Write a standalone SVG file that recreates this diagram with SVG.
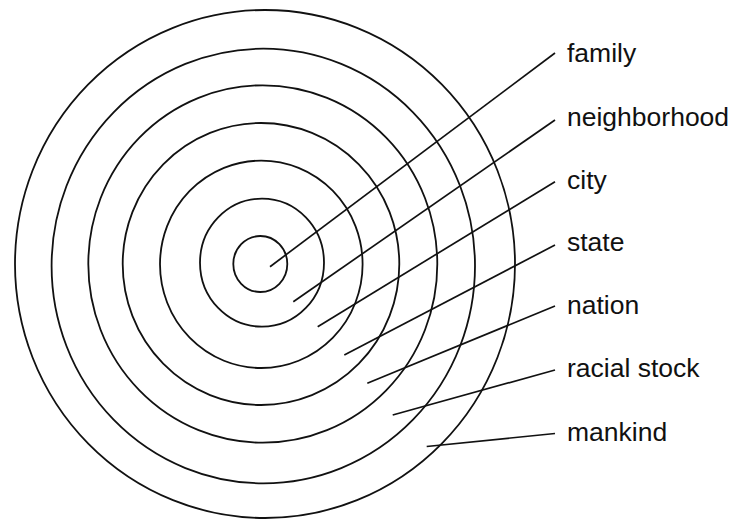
<svg xmlns="http://www.w3.org/2000/svg" width="735" height="519" viewBox="0 0 735 519">
<style>
.ring{fill:none;stroke:#111;stroke-width:1.8}
.ln{stroke:#111;stroke-width:1.7;fill:none}
.lbl{font-family:"Liberation Sans",Arial,sans-serif;font-size:26.5px;fill:#111}
</style>
<rect width="735" height="519" fill="#fff"/>
<g id="mankind"><ellipse class="ring" cx="265" cy="264" rx="250" ry="254"/><text class="lbl" x="567" y="441">mankind</text></g>
<g id="racial-stock"><ellipse class="ring" cx="263.3" cy="266" rx="211.7" ry="217.3"/><text class="lbl" x="567" y="377">racial stock</text></g>
<g id="nation"><ellipse class="ring" cx="262.8" cy="264" rx="174.5" ry="178.7"/><text class="lbl" x="567" y="314">nation</text></g>
<g id="state"><ellipse class="ring" cx="261" cy="264" rx="138.3" ry="141"/><text class="lbl" x="567" y="251">state</text></g>
<g id="city"><ellipse class="ring" cx="261.3" cy="264.3" rx="101.3" ry="103.7"/><text class="lbl" x="567" y="188.5">city</text></g>
<g id="neighborhood"><ellipse class="ring" cx="262" cy="262.7" rx="62" ry="64"/><text class="lbl" x="567" y="125.5">neighborhood</text></g>
<g id="family"><ellipse class="ring" cx="260.3" cy="264" rx="27" ry="28"/><text class="lbl" x="567" y="62">family</text></g>
<g id="connectors">
<line class="ln" x1="270" y1="266.7" x2="555" y2="53"/>
<line class="ln" x1="293.3" y1="301.7" x2="555" y2="120"/>
<line class="ln" x1="317.7" y1="326.7" x2="555" y2="181.7"/>
<line class="ln" x1="344.3" y1="355" x2="555" y2="245"/>
<line class="ln" x1="367.3" y1="383.3" x2="555" y2="306"/>
<line class="ln" x1="392.7" y1="415" x2="555" y2="370"/>
<line class="ln" x1="426.7" y1="446.5" x2="555" y2="433.5"/>
</g>
</svg>
